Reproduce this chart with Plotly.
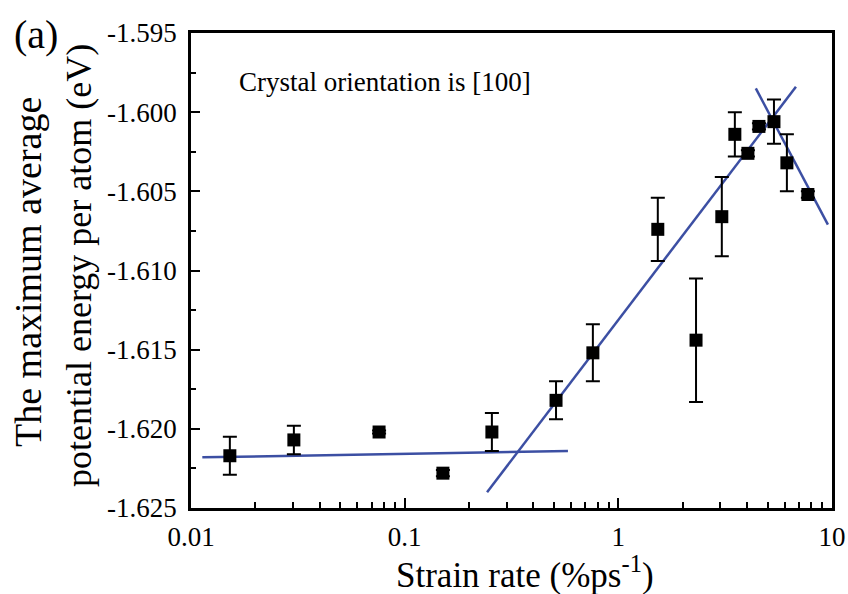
import plotly.graph_objects as go

# ---- data ----
strain_rate = [0.0152, 0.0303, 0.0759, 0.151, 0.256, 0.511, 0.760, 1.53, 2.31,
               3.05, 3.51, 4.04, 4.55, 5.35, 6.15, 7.71]
energy = [-1.6217, -1.6207, -1.6202, -1.6228, -1.6202, -1.6182, -1.6152, -1.6074,
          -1.6144, -1.6066, -1.6014, -1.6026, -1.6009, -1.6006, -1.6032, -1.6052]
energy_err = [0.0012, 0.0009, 0.0001, 0.0002, 0.0012, 0.0012, 0.0018, 0.0020,
              0.0039, 0.0025, 0.0014, 0.0002, 0.0002, 0.0014, 0.0018, 0.0002]

fit1_x = [0.0113, 0.581]
fit1_y = [-1.6218, -1.6214]
fit2_x = [0.243, 6.78]
fit2_y = [-1.6240, -1.5984]
fit3_x = [4.40, 9.57]
fit3_y = [-1.5985, -1.6071]

y_ticks = [-1.625, -1.620, -1.615, -1.610, -1.605, -1.600, -1.595]
y_ticktext = ["-1.625", "-1.620", "-1.615", "-1.610", "-1.605", "-1.600", "-1.595"]
x_ticks = [0.01, 0.1, 1, 10]
x_ticktext = ["0.01", "0.1", "1", "10"]
x_minor = [k * 10 ** d for d in (-2, -1, 0) for k in range(2, 10)]

FONT = "Liberation Serif"
BLUE = "#3c4fa3"

fig = go.Figure()
for fx, fy in ((fit1_x, fit1_y), (fit2_x, fit2_y), (fit3_x, fit3_y)):
    fig.add_trace(go.Scatter(x=fx, y=fy, mode="lines",
                             line=dict(color=BLUE, width=2.5), showlegend=False))

fig.add_trace(go.Scatter(
    x=strain_rate, y=energy, mode="markers",
    marker=dict(symbol="square", size=13, color="black"),
    error_y=dict(type="data", array=energy_err, visible=True,
                 color="black", thickness=2, width=7),
    showlegend=False))

T = 33
B = 508
H = B - T
L = 191
W = 832 - L


def px(xpix):
    return (xpix - L) / W


def py(ypix):
    return (B - ypix) / H


fig.update_layout(
    width=848, height=594,
    margin=dict(l=L, r=848 - 832, t=T, b=594 - B),
    paper_bgcolor="white", plot_bgcolor="white",
    font=dict(family=FONT, color="black"),
    xaxis=dict(type="log", range=[-2, 1], tickvals=x_ticks, ticktext=x_ticktext,
               ticks="inside", ticklen=10, tickwidth=2, tickcolor="black",
               showline=True, linewidth=2.5, linecolor="black", mirror=True,
               showgrid=False, zeroline=False, automargin=False,
               tickfont=dict(family=FONT, size=27, color="black"),
               ticklabelstandoff=3,
               minor=dict(tickvals=x_minor, ticks="inside", ticklen=6,
                          tickwidth=2, tickcolor="black", showgrid=False)),
    yaxis=dict(range=[-1.625, -1.595], tickvals=y_ticks, ticktext=y_ticktext,
               ticks="inside", ticklen=9, tickwidth=2, tickcolor="black",
               showline=True, linewidth=2.5, linecolor="black", mirror=True,
               showgrid=False, zeroline=False, automargin=False,
               tickfont=dict(family=FONT, size=27, color="black"),
               ticklabelstandoff=6,
               minor=dict(dtick=0.0025, tick0=-1.625, ticks="inside", ticklen=5,
                          tickwidth=2, tickcolor="black", showgrid=False)),
    annotations=[
        dict(text="(a)", xref="paper", yref="paper", x=px(12), y=py(35),
             xanchor="left", yanchor="middle", showarrow=False,
             font=dict(family=FONT, size=40, color="black")),
        dict(text="Crystal orientation is [100]", xref="paper", yref="paper",
             x=px(237), y=py(82), xanchor="left", yanchor="middle",
             showarrow=False, font=dict(family=FONT, size=27, color="black")),
        dict(text="The maximum average",
             xref="paper", yref="paper", x=px(28), y=py(272),
             xanchor="center", yanchor="middle", textangle=-90, showarrow=False,
             font=dict(family=FONT, size=38, color="black")),
        dict(text="potential energy per atom (eV)",
             xref="paper", yref="paper", x=px(79), y=py(266),
             xanchor="center", yanchor="middle", textangle=-90, showarrow=False,
             font=dict(family=FONT, size=36, color="black")),
        dict(text="Strain rate (%ps<sup>-1</sup>)", xref="paper", yref="paper",
             x=px(525), y=py(572), xanchor="center", yanchor="middle",
             showarrow=False, font=dict(family=FONT, size=35, color="black")),
    ],
)

fig.write_html("out.html", config={"displayModeBar": False},
               post_script="document.body.style.margin='0';document.body.style.padding='0';")
